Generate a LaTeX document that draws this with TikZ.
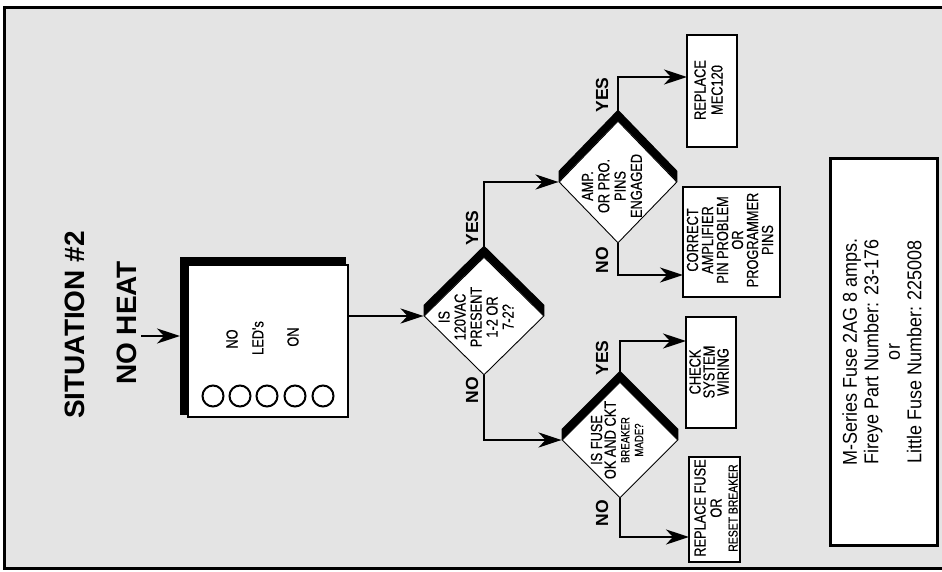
\documentclass[tikz,border=0pt]{standalone}
\usepackage{fontspec}
\setmainfont{Liberation Sans}
\newfontfamily\cond[FakeStretch=0.8,FakeBold=0.4]{Liberation Sans}
\newfontfamily\condi[FakeStretch=0.9]{Liberation Sans}
\usetikzlibrary{shapes.geometric,arrows.meta,calc}
\definecolor{bg}{HTML}{E4E4E4}
\begin{document}
\begin{tikzpicture}[x=1pt,y=-1pt,
  arr/.style={line width=2.6pt,-{Stealth[length=23pt,width=15pt,inset=7pt]}},
  dia/.style={diamond,draw,fill=white,line width=0.9pt,inner sep=0,aspect=1},
  box/.style={draw,fill=white,line width=2pt,inner sep=0},
  ctext/.style={rotate=90,align=center,inner sep=0,font=\cond\fontsize{16}{15.5}\selectfont},
  lab/.style={rotate=90,inner sep=0,font=\bfseries\fontsize{17.5}{18}\selectfont},
  ttl/.style={rotate=90,inner sep=0,font=\bfseries\fontsize{28}{30}\selectfont},
  led/.style={circle,draw,line width=2pt,minimum size=21pt,inner sep=0}]
\useasboundingbox (0,0) rectangle (942,572);
\fill[white] (0,0) rectangle (942,572);
\draw[line width=3pt,fill=bg] (4.5,7.5) rectangle (946,568.5);

% title
\node[ttl] (title) at (75,325) {SITUATION \#2};
\node[ttl] (noheat) at (127,323) {NO HEAT};
\coordinate (startpt) at (141,336);
\coordinate (ledin) at (180,336);
\draw[arr] (startpt) -- (ledin);

% LED box
\fill (180,257) rectangle (346,415);
\node[box,line width=2.5pt,minimum width=160pt,minimum height=152pt] (led) at (268,341) {};
\node[ctext] (tno) at (232,339) {NO};
\node[ctext] (tleds) at (258,338) {LED's};
\node[ctext] (ton) at (293,337) {ON};
\foreach \i/\x in {1/213,2/240,3/267,4/295,5/323}
  \node[led] (c\i) at (\x,396) {};

% diamonds
\node[dia,minimum width=120pt,minimum height=118pt] (d1) at (484,316) {};
\node[dia,minimum width=118pt,minimum height=122pt] (d2) at (618,182) {};
\node[dia,minimum width=116pt,minimum height=116pt] (d3) at (620,440) {};
\foreach \d in {d1,d2,d3}
  \fill (\d.west) -- (\d.north) -- (\d.east) -- ($(\d.east)+(0,-11)$)
        -- ($(\d.north)+(0,-11)$) -- ($(\d.west)+(0,-11)$) -- cycle;

\node[ctext,font=\cond\fontsize{16}{16}\selectfont] (d1t) at (476,317)
  {IS\\120VAC\\PRESENT\\1-2 OR\\7-2?};
\node[ctext,font=\cond\fontsize{16}{16.3}\selectfont] (d2t) at (612,186)
  {AMP.\\OR PRO.\\PINS\\ENGAGED};
\node[ctext,font=\cond\fontsize{16}{13.7}\selectfont] (d3t) at (617,440)
  {IS FUSE\\OK AND CKT\\{\fontsize{12}{13.7}\selectfont BREAKER}\\{\fontsize{12}{13.7}\selectfont MADE?}};

% connector from LED box
\coordinate (ledout) at (348,316);
\draw[arr] (ledout) -- (d1.west);

% labels
\node[lab] (y1) at (472,228) {YES};
\node[lab] (n1) at (472,390) {NO};
\node[lab] (y2) at (602,95) {YES};
\node[lab] (n2) at (602,260) {NO};
\node[lab] (y3) at (602,358) {YES};
\node[lab] (n3) at (602,513) {NO};

% result boxes
\node[box,minimum width=50pt,minimum height=112pt] (mec) at (712,91) {};
\node[ctext,font=\cond\fontsize{16}{17}\selectfont] (mect) at (708.5,90) {REPLACE\\MEC120};
\node[box,minimum width=97pt,minimum height=110pt] (cor) at (731.5,242) {};
\node[ctext,font=\cond\fontsize{16}{15}\selectfont] (cort) at (730,240)
  {CORRECT\\AMPLIFIER\\PIN PROBLEM\\OR\\PROGRAMMER\\PINS};
\node[box,minimum width=50pt,minimum height=111pt] (chk) at (711,372.5) {};
\node[ctext,font=\cond\fontsize{16}{14}\selectfont] (chkt) at (709,372) {CHECK\\SYSTEM\\WIRING};
\node[box,minimum width=51pt,minimum height=105pt] (fus) at (714.5,509.5) {};
\node[ctext,font=\cond\fontsize{16}{16}\selectfont] (fust) at (716,508)
  {REPLACE FUSE\\OR\\{\fontsize{13}{16}\selectfont RESET BREAKER}};

% connectors
\coordinate (mecin) at (687,77);
\coordinate (corin) at (683,275);
\coordinate (chkin) at (686,341);
\coordinate (fusin) at (689,537);
\draw[arr] (d1.north) |- (d2.west);
\draw[arr] (d1.south) |- (d3.west);
\draw[arr] (d2.north) |- (mecin);
\draw[arr] (d2.south) |- (corin);
\draw[arr] (d3.north) |- (chkin);
\draw[arr] (d3.south) |- (fusin);

% info box
\node[box,line width=3pt,minimum width=107pt,minimum height=386pt] (info) at (883.5,352) {};
\node[rotate=90,align=center,inner sep=0,font=\condi\fontsize{20}{21.5}\selectfont] (infot) at (882,352)
  {M-Series Fuse 2AG 8 amps.\\Fireye Part Number: 23-176\\or\\Little Fuse Number: 225008};
\end{tikzpicture}
\end{document}
